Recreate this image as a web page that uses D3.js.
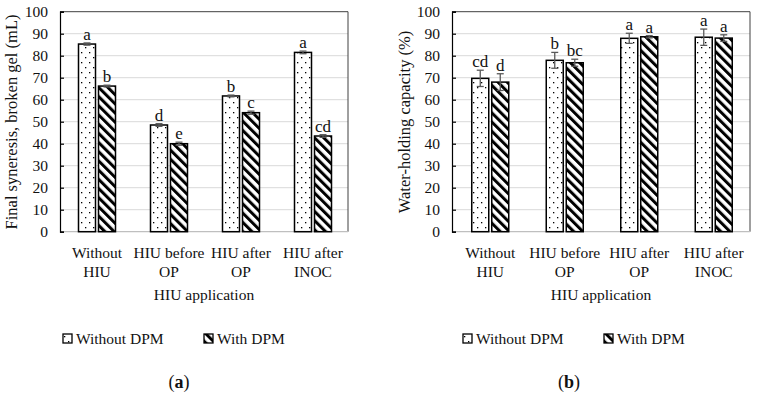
<!DOCTYPE html>
<html>
<head>
<meta charset="utf-8">
<script src="https://cdn.jsdelivr.net/npm/d3@7"></script>
<style>
  body { margin: 0; background: #fff; }
</style>
</head>
<body>
<script>
var w = 757, h = 395;

// categories and series
var categories = [["Without", "HIU"], ["HIU before", "OP"], ["HIU after", "OP"], ["HIU after", "INOC"]];
var seriesNames = ["Without DPM", "With DPM"];
var yTicks = [0, 10, 20, 30, 40, 50, 60, 70, 80, 90, 100];

// (a) final syneresis
var synWithout = [85.3, 48.5, 61.7, 81.5];
var synWith = [66.2, 40.0, 54.1, 43.5];
var synErrWithout = [0.5, 0.6, 0.4, 0.6];
var synErrWith = [0.4, 0.7, 0.7, 0.6];
var synLetWithout = ["a", "d", "b", "a"];
var synLetWith = ["b", "e", "c", "cd"];

// (b) water-holding capacity
var whcWithout = [69.7, 77.9, 87.9, 88.4];
var whcWith = [68.0, 76.8, 88.6, 88.0];
var whcErrWithout = [3.7, 3.6, 2.3, 3.7];
var whcErrWith = [3.8, 1.6, 0.5, 1.5];
var whcLetWithout = ["cd", "b", "a", "a"];
var whcLetWith = ["d", "bc", "a", "a"];

var svg = d3.select("body").append("svg").attr("width", w).attr("height", h)
  .attr("font-family", "'Liberation Serif', 'Times New Roman', serif");

// patterns
var defs = svg.append("defs");
var dots = defs.append("pattern").attr("id", "dots")
  .attr("patternUnits", "userSpaceOnUse").attr("width", 8).attr("height", 10);
dots.append("rect").attr("width", 8).attr("height", 10).attr("fill", "#fff");
dots.append("rect").attr("x", 1).attr("y", 2).attr("width", 1.3).attr("height", 1.3).attr("fill", "#000");
dots.append("rect").attr("x", 5).attr("y", 7).attr("width", 1.3).attr("height", 1.3).attr("fill", "#000");

var hatch = defs.append("pattern").attr("id", "hatch")
  .attr("patternUnits", "userSpaceOnUse").attr("width", 6.5).attr("height", 6.5)
  .attr("patternTransform", "rotate(-45)");
hatch.append("rect").attr("width", 6.5).attr("height", 6.5).attr("fill", "#fff");
hatch.append("rect").attr("x", 0).attr("y", 0).attr("width", 3).attr("height", 6.5).attr("fill", "#000");

function drawPanel(opt) {
  var g = svg.append("g").attr("fill", "#111");
  var x = d3.scaleBand().domain(d3.range(categories.length)).range([opt.left, opt.right]);
  var y = d3.scaleLinear().domain([0, 100]).range([231.7, 11.7]);

  // gridlines
  g.selectAll(".grid").data(yTicks.slice(1, -1)).enter().append("line")
    .attr("x1", opt.left).attr("x2", opt.right)
    .attr("y1", function (d) { return y(d); }).attr("y2", function (d) { return y(d); })
    .attr("stroke", "#d9d9d9").attr("stroke-width", 1);

  // frame top/right
  g.append("path")
    .attr("d", "M" + opt.left + "," + y(100) + "H" + opt.right + "V" + y(0))
    .attr("fill", "none").attr("stroke", "#404040").attr("stroke-width", 1);
  // bottom axis
  g.append("line").attr("x1", opt.left).attr("x2", opt.right)
    .attr("y1", y(0)).attr("y2", y(0)).attr("stroke", "#bfbfbf").attr("stroke-width", 1.2);

  // left axis, ticks inward
  var yAxis = d3.axisRight(y).tickValues(yTicks).tickSize(4).tickFormat("");
  var ya = g.append("g").attr("transform", "translate(" + opt.left + ",0)").call(yAxis);
  ya.select(".domain").attr("stroke", "#000").attr("stroke-width", 1.2);
  ya.selectAll(".tick line").attr("stroke", "#000").attr("stroke-width", 1.2);

  g.selectAll(".ytl").data(yTicks).enter().append("text")
    .attr("x", opt.left - 12).attr("y", function (d) { return y(d) + 5; })
    .attr("text-anchor", "end").attr("font-size", 15.5).text(function (d) { return d; });

  g.append("text")
    .attr("transform", "translate(" + opt.ylabX + "," + 122 + ") rotate(-90)")
    .attr("text-anchor", "middle").attr("font-size", 16.5).text(opt.ylabel);

  var bw = 17, gap = 3;
  var series = [
    { vals: opt.v0, errs: opt.e0, lets: opt.l0, fill: "url(#dots)", off: -gap / 2 - bw },
    { vals: opt.v1, errs: opt.e1, lets: opt.l1, fill: "url(#hatch)", off: gap / 2 }
  ];
  series.forEach(function (s) {
    var cx = function (i) { return x(i) + x.bandwidth() / 2 + 1 + s.off; };
    g.selectAll(null).data(s.vals).enter().append("rect")
      .attr("x", function (d, i) { return cx(i); })
      .attr("y", function (d) { return y(d); })
      .attr("width", bw).attr("height", function (d) { return y(0) - y(d); })
      .attr("fill", s.fill).attr("stroke", "#000").attr("stroke-width", 1.5);
    // error bars
    var eb = g.selectAll(null).data(s.vals).enter().append("g").attr("stroke", "#595959").attr("stroke-width", 1.3);
    eb.append("line")
      .attr("x1", function (d, i) { return cx(i) + bw / 2; }).attr("x2", function (d, i) { return cx(i) + bw / 2; })
      .attr("y1", function (d, i) { return y(d + s.errs[i]); }).attr("y2", function (d, i) { return y(d - s.errs[i]); });
    [1, -1].forEach(function (sg) {
      eb.append("line")
        .attr("x1", function (d, i) { return cx(i) + bw / 2 - 3.5; }).attr("x2", function (d, i) { return cx(i) + bw / 2 + 3.5; })
        .attr("y1", function (d, i) { return y(d + sg * s.errs[i]); }).attr("y2", function (d, i) { return y(d + sg * s.errs[i]); });
    });
    g.selectAll(null).data(s.vals).enter().append("text")
      .attr("x", function (d, i) { return cx(i) + bw / 2; })
      .attr("y", function (d, i) { return y(d + s.errs[i]) - 3; })
      .attr("text-anchor", "middle").attr("font-size", 17)
      .text(function (d, i) { return s.lets[i]; });
  });

  // category labels
  var cl = g.selectAll(".cat").data(categories).enter().append("text")
    .attr("text-anchor", "middle").attr("font-size", 15.5);
  cl.append("tspan").attr("x", function (d, i) { return x(i) + x.bandwidth() / 2 + 1; }).attr("y", 258)
    .text(function (d) { return d[0]; });
  cl.append("tspan").attr("x", function (d, i) { return x(i) + x.bandwidth() / 2 + 1; }).attr("y", 277)
    .text(function (d) { return d[1]; });

  g.append("text").attr("x", (opt.left + opt.right) / 2).attr("y", 300)
    .attr("text-anchor", "middle").attr("font-size", 15.5).text("HIU application");

  // legend
  var lg = g.selectAll(".leg").data(seriesNames).enter().append("g")
    .attr("transform", function (d, i) { return "translate(" + opt.legX[i] + ",334)"; });
  lg.append("rect").attr("width", 9).attr("height", 9)
    .attr("fill", function (d, i) { return i ? "url(#hatch)" : "url(#dots)"; })
    .attr("stroke", "#000").attr("stroke-width", 1.3);
  lg.append("text").attr("x", 13).attr("y", 10).attr("font-size", 15.5).text(function (d) { return d; });

  var pl = g.append("text").attr("x", opt.panX).attr("y", 388).attr("text-anchor", "middle").attr("font-size", 18);
  pl.append("tspan").text("(");
  pl.append("tspan").attr("font-weight", "bold").text(opt.panel);
  pl.append("tspan").text(")");
}

drawPanel({
  left: 60, right: 348, ylabX: 17, ylabel: "Final syneresis, broken gel (mL)",
  v0: synWithout, v1: synWith, e0: synErrWithout, e1: synErrWith, l0: synLetWithout, l1: synLetWith,
  legX: [63, 204], panX: 179, panel: "a"
});
drawPanel({
  left: 452, right: 750, ylabX: 410, ylabel: "Water-holding capacity (%)",
  v0: whcWithout, v1: whcWith, e0: whcErrWithout, e1: whcErrWith, l0: whcLetWithout, l1: whcLetWith,
  legX: [463, 604], panX: 569, panel: "b"
});
</script>
</body>
</html>
